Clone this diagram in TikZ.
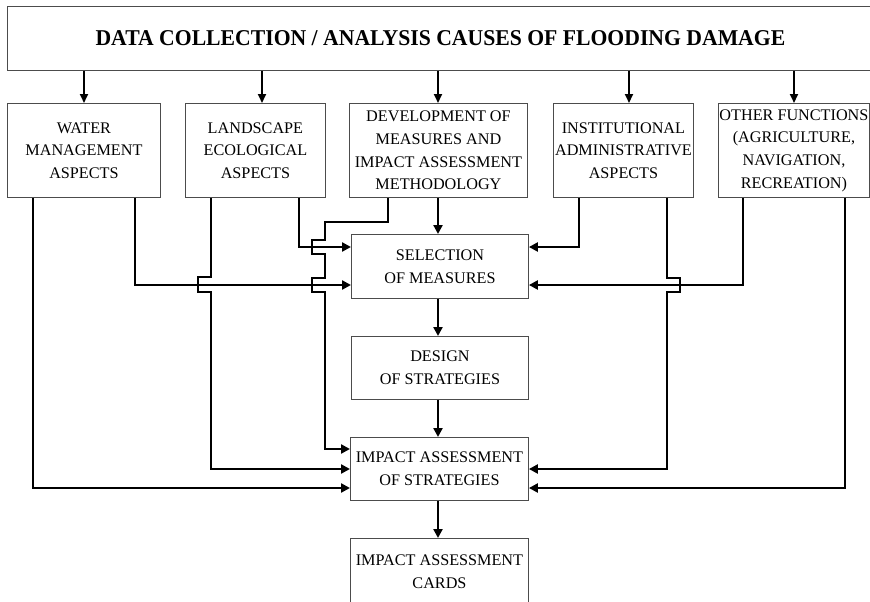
\documentclass[tikz,border=0pt]{standalone}
\usepackage{fontspec}
\usepackage{graphicx}
\setmainfont{Liberation Serif}
\usetikzlibrary{arrows.meta}
\begin{document}
\begin{tikzpicture}[x=1pt,y=-1pt,
  box/.style={draw=black!70, line width=0.9pt, fill=white, inner sep=0pt,
    align=center, anchor=north west, font=\fontsize{16.2}{22.7}\selectfont},
  conn/.style={line width=2.6pt, -{Triangle[length=9pt,width=9pt]}},
  feed/.style={line width=2pt, -{Triangle[length=9pt,width=8pt]}},
]
\useasboundingbox (0,0) rectangle (870,602);
\fill[white] (0,0) rectangle (870,602);
\clip (0,0) rectangle (870,602);

% header
\node[box, minimum width=866pt, minimum height=64pt] (top) at (7,6)
  {\raisebox{-3pt}{\fontsize{22.6}{26}\bfseries\selectfont\scalebox{0.96}[1]{DATA COLLECTION / ANALYSIS CAUSES OF FLOODING DAMAGE}}};

% aspect boxes
\node[box, minimum width=153pt, minimum height=94pt] (water) at (7,103)
  {WATER\\MANAGEMENT\\ASPECTS};
\node[box, minimum width=140pt, minimum height=94pt] (land) at (185,103)
  {LANDSCAPE\\ECOLOGICAL\\ASPECTS};
\node[box, minimum width=178pt, minimum height=94pt] (dev) at (349,103)
  {DEVELOPMENT OF\\MEASURES AND\\IMPACT ASSESSMENT\\METHODOLOGY};
\node[box, minimum width=140pt, minimum height=94pt] (inst) at (553,103)
  {INSTITUTIONAL\\ADMINISTRATIVE\\ASPECTS};
\node[box, minimum width=151pt, minimum height=94pt] (other) at (718,103)
  {OTHER FUNCTIONS\\(AGRICULTURE,\\NAVIGATION,\\RECREATION)};

% central chain
\node[box, minimum width=177pt, minimum height=64pt] (sel) at (351,234)
  {SELECTION\\OF MEASURES};
\node[box, minimum width=177pt, minimum height=63pt] (design) at (351,336)
  {DESIGN\\OF STRATEGIES};
\node[box, minimum width=178pt, minimum height=63pt] (impact) at (350,437)
  {IMPACT ASSESSMENT\\OF STRATEGIES};
\node[box, minimum width=178pt, minimum height=66pt] (cards) at (350,538)
  {IMPACT ASSESSMENT\\CARDS};

% header to aspects
\foreach \n/\x in {water/84, land/262, dev/438, inst/629, other/794}
  \draw[feed] (top.south -| \x,0) -- (\n.north -| \x,0);

% water management
\draw[conn] (water.south -| 33,0) |- (impact.west |- 0,488);
\draw[conn] (water.south -| 135,0) |- (sel.west |- 0,285);

% landscape ecological (left line bridges the crossing at y=285)
\draw[conn] (land.south -| 211,0) -- (211,277) -- (198,277) -- (198,292)
  -- (211,292) |- (impact.west |- 0,469);
\draw[conn] (land.south -| 299,0) |- (sel.west |- 0,247);

% development of measures
\draw[conn] (dev.south -| 388,0) |- (325,222) -- (325,240) -- (312,240)
  -- (312,254) -- (325,254) -- (325,278) -- (312,278) -- (312,292)
  -- (325,292) |- (impact.west |- 0,449);
\draw[conn] (dev.south -| 438,0) -- (sel.north -| 438,0);

% institutional administrative
\draw[conn] (inst.south -| 579,0) |- (sel.east |- 0,247);
\draw[conn] (inst.south -| 667,0) -- (667,278) -- (680,278) -- (680,292)
  -- (667,292) |- (impact.east |- 0,469);

% other functions
\draw[conn] (other.south -| 743,0) |- (sel.east |- 0,285);
\draw[conn] (other.south -| 845,0) |- (impact.east |- 0,488);

% chain
\draw[conn] (sel.south -| 438,0) -- (design.north -| 438,0);
\draw[conn] (design.south -| 438,0) -- (impact.north -| 438,0);
\draw[conn] (impact.south -| 438,0) -- (cards.north -| 438,0);
\end{tikzpicture}
\end{document}
